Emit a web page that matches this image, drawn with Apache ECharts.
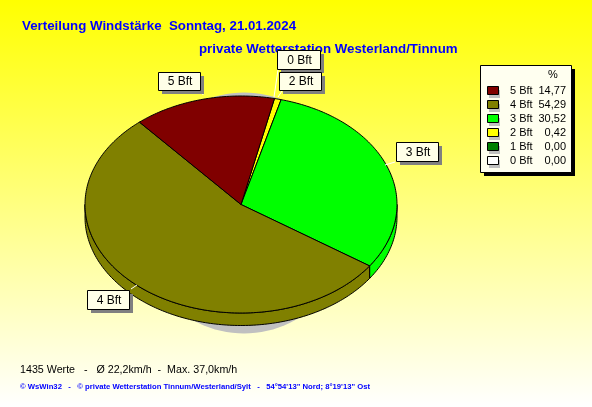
<!DOCTYPE html>
<html><head><meta charset="utf-8">
<style>html,body{margin:0;padding:0;background:#fff}#c{width:592px;height:407px}</style>
<script src="https://cdn.jsdelivr.net/npm/echarts@6/dist/echarts.min.js"></script>
</head><body><div id="c"></div>
<script>
const categories = ['0 Bft','1 Bft','2 Bft','3 Bft','4 Bft','5 Bft'];
const percentValues = [0.00,0.00,0.42,30.52,54.29,14.77];
const sliceColors = ['#ffffff','#008000','#ffff00','#00ff00','#808000','#800000'];
const titleText = 'Verteilung Windstärke  Sonntag, 21.01.2024';
const subtitleText = 'private Wetterstation Westerland/Tinnum';
const statsText = '1435 Werte   -   Ø 22,2km/h  -  Max. 37,0km/h';
const footerText = '© WsWin32   -   © private Wetterstation Tinnum/Westerland/Sylt   -   54°54\'13" Nord; 8°19\'13" Ost';
const calloutCategories = ['5 Bft','0 Bft','2 Bft','3 Bft','4 Bft'];

const FONT = '"Liberation Sans", Arial, sans-serif';
const pie = {cx:241, cy:204.5, rx:156, ry:108.5, depth:12.5, start:12.4, minAngle:2.5};
const callouts = {
  '5 Bft':{x:158,y:72,w:42,h:18,line:[202,91,203,95]},
  '0 Bft':{x:277,y:50,w:43,h:19,line:[278,70,274,97]},
  '2 Bft':{x:279,y:72,w:42,h:18,line:[282,91,278,97]},
  '3 Bft':{x:396,y:142,w:42,h:19,line:[395,162,385,165]},
  '4 Bft':{x:87,y:290,w:42,h:19,line:[131,289,137,285]}
};
const legendBox = {x:480,y:65,w:91,h:107,rowY:91,rowStep:14};

function pt(deg,dy){const a=deg*Math.PI/180;return [pie.cx+pie.rx*Math.sin(a),pie.cy-pie.ry*Math.cos(a)+(dy||0)];}
function arc(a,b,dy){const p=[];const n=Math.max(2,Math.ceil(Math.abs(b-a)));for(let i=0;i<=n;i++)p.push(pt(a+(b-a)*i/n,dy));return p;}
// Sweep per slice: like a pie's minAngle, very thin non-zero slices are widened and the rest share what remains.
const total = percentValues.reduce((s,v)=>s+v,0);
const rawSweeps = percentValues.map(v=>v/total*360);
const thin = rawSweeps.filter(s=>s>0&&s<pie.minAngle).length;
const wideSum = rawSweeps.filter(s=>s>=pie.minAngle).reduce((s,v)=>s+v,0);
const sweeps = rawSweeps.map(s=>s===0?0:(s<pie.minAngle?pie.minAngle:s*(360-thin*pie.minAngle)/wideSum));
function sliceRange(i){let s=pie.start;for(let k=0;k<i;k++)s+=sweeps[k];return [s,s+sweeps[i]];}

function renderSlice(params,api){
  const v=api.value(0), i=params.dataIndex;
  if(!v) return {type:'group',children:[]};
  const [a,b]=sliceRange(i);
  const kids=[];
  const style={fill:sliceColors[i],stroke:'#000',lineWidth:1};
  const sa=Math.max(a,90), sb=Math.min(b,270);
  if(sb>sa){
    const top=arc(sa,sb,0), bot=arc(sb,sa,pie.depth);
    kids.push({type:'polygon',shape:{points:top.concat(bot)},style});
  }
  kids.push({type:'polygon',shape:{points:[[pie.cx,pie.cy]].concat(arc(a,b,0))},style});
  return {type:'group',children:kids};
}

const graphicEls=[];
const shadowPts=[];for(let d=0;d<360;d+=3){const r=d*Math.PI/180;shadowPts.push([244+112*Math.sin(r),213-120.5*Math.cos(r)]);}
graphicEls.push({type:'polygon',z:1,shape:{points:shadowPts},style:{fill:'#c0c0c0'}});
calloutCategories.forEach(n=>{
  const c=callouts[n];
  graphicEls.push({type:'line',z:20,shape:{x1:c.line[0],y1:c.line[1],x2:c.line[2],y2:c.line[3]},style:{stroke:'#ffffff',lineWidth:1}});
  graphicEls.push({type:'rect',z:20,shape:{x:c.x+4,y:c.y+4,width:c.w,height:c.h},style:{fill:'#808080'}});
  graphicEls.push({type:'rect',z:21,shape:{x:c.x+.5,y:c.y+.5,width:c.w,height:c.h},style:{fill:'#ffffe8',stroke:'#000',lineWidth:1}});
  graphicEls.push({type:'text',z:22,x:c.x+c.w/2+1,y:c.y+c.h/2+1,style:{text:n,fill:'#000',font:'12px '+FONT,align:'center',verticalAlign:'middle'}});
});
const L=legendBox;
graphicEls.push({type:'rect',z:20,shape:{x:L.x+4,y:L.y+4,width:L.w,height:L.h},style:{fill:'#000'}});
graphicEls.push({type:'rect',z:21,shape:{x:L.x+.5,y:L.y+.5,width:L.w,height:L.h},style:{fill:'#fffff0',stroke:'#000',lineWidth:1}});
graphicEls.push({type:'text',z:22,x:553,y:75,style:{text:'%',fill:'#000',font:'11px '+FONT,align:'center',verticalAlign:'middle'}});
for(let k=0;k<categories.length;k++){
  const i=categories.length-1-k, y=L.rowY+k*L.rowStep;
  graphicEls.push({type:'rect',z:22,shape:{x:489,y:y-1,width:11,height:8},style:{fill:'#c0c0c0'}});
  graphicEls.push({type:'rect',z:23,shape:{x:487.5,y:y-4.5,width:11,height:8},style:{fill:sliceColors[i],stroke:'#000',lineWidth:1}});
  graphicEls.push({type:'text',z:23,x:510,y:y,style:{text:categories[i],fill:'#000',font:'11px '+FONT,align:'left',verticalAlign:'middle'}});
  graphicEls.push({type:'text',z:23,x:566,y:y,style:{text:percentValues[i].toFixed(2).replace('.',','),fill:'#000',font:'11px '+FONT,align:'right',verticalAlign:'middle'}});
}

const chart=echarts.init(document.getElementById('c'),null,{renderer:'canvas'});
chart.setOption({
  animation:false,
  backgroundColor:{type:'linear',x:0,y:0,x2:0,y2:1,colorStops:[{offset:0,color:'#ffff00'},{offset:1,color:'#ffffff'}]},
  title:[
    {text:titleText,left:17,top:14,z:2,textStyle:{color:'#0000ff',fontFamily:FONT,fontWeight:'bold',fontSize:13.3,lineHeight:14}},
    {text:subtitleText,left:194,top:37,z:2,textStyle:{color:'#0000ff',fontFamily:FONT,fontWeight:'bold',fontSize:13.3,lineHeight:14}},
    {text:statsText,left:15,top:359,z:2,textStyle:{color:'#000',fontFamily:FONT,fontWeight:'normal',fontSize:10.7,lineHeight:13}},
    {text:footerText,left:15,top:376,z:2,textStyle:{color:'#0000ff',fontFamily:FONT,fontWeight:'bold',fontSize:7.7,lineHeight:11}}
  ],
  graphic:{elements:graphicEls},
  series:[{type:'custom',coordinateSystem:'none',z:10,silent:true,renderItem:renderSlice,
    data:percentValues.map((v,i)=>({name:categories[i],value:[v]}))}]
});
</script></body></html>
